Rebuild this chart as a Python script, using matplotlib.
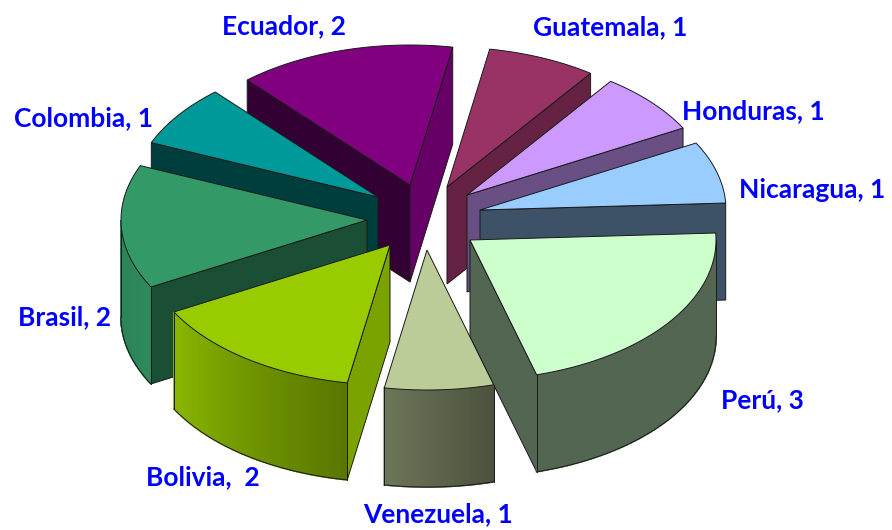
import numpy as np
import matplotlib
matplotlib.use("Agg")
import matplotlib.pyplot as plt
from matplotlib.patches import Polygon

# clockwise from the top
labels = ["Guatemala, 1", "Honduras, 1", "Nicaragua, 1", "Perú, 3", "Venezuela, 1",
          "Bolivia,  2", "Brasil, 2", "Colombia, 1", "Ecuador, 2"]
values = [1, 1, 1, 3, 1, 2, 2, 1, 2]
colors = ["#993366", "#CC99FF", "#99CCFF", "#CCFFCC", "#BBCC99",
          "#99CC00", "#339966", "#009999", "#800080"]

# layout in pixels
apex_x = [447, 467, 480, 470, 427, 390, 367, 378, 410]
apex_y = [187, 195, 210, 240, 250, 245, 220, 197, 185]
label_x = [533, 682, 739, 721, 363, 146, 18, 14, 222]
label_y = [27, 111, 190, 400, 514, 477, 317, 118, 26]
draw_order = [8, 0, 7, 1, 2, 6, 3, 5, 4]
start_angle = 10
rx, ry = 246, 140
depth = 97
edge = "#1a1a1a"


def shade(color, f):
    return tuple(np.array(matplotlib.colors.to_rgb(color)) * f)


def cut_shade(normal):
    return np.clip(0.8 - (normal - 100) * 0.0055, 0.4, 0.8)


def rim(cx, cy, a):
    a = np.radians(a)
    return cx + rx * np.sin(a), cy - ry * np.cos(a)


def draw_cut(ax, cx, cy, a, normal, color, z):
    # flat wall from the apex to the rim, only if it faces the viewer
    if np.cos(np.radians(normal)) >= 0:
        return
    x, y = rim(cx, cy, a)
    pts = [(cx, cy), (x, y), (x, y + depth), (cx, cy + depth)]
    ax.add_patch(Polygon(pts, fc=shade(color, cut_shade(normal % 360)), ec=edge, lw=0.7, zorder=z))


def draw_rim(ax, cx, cy, a0, a1, color, z):
    # outer wall, only the front half of the ellipse shows
    lo, hi = max(a0, 90), min(a1, 270)
    if lo >= hi:
        return
    t = np.linspace(lo, hi, 60)
    xs, ys = rim(cx, cy, t)
    f = np.interp(t, [90, 164, 190, 241, 270], [0.4, 0.4, 0.58, 0.9, 0.85])
    for i in range(len(t) - 1):
        pts = [(xs[i], ys[i]), (xs[i + 1], ys[i + 1]),
               (xs[i + 1], ys[i + 1] + depth), (xs[i], ys[i] + depth)]
        c = shade(color, f[i])
        ax.add_patch(Polygon(pts, fc=c, ec=c, lw=1.2, zorder=z))
    ax.plot(xs, ys + depth, color=edge, lw=0.7, zorder=z + 0.1)
    ax.plot([xs[0], xs[0]], [ys[0], ys[0] + depth], color=edge, lw=0.7, zorder=z + 0.1)
    ax.plot([xs[-1], xs[-1]], [ys[-1], ys[-1] + depth], color=edge, lw=0.7, zorder=z + 0.1)


def main():
    fig = plt.figure(figsize=(8.92, 5.30), dpi=100)
    ax = fig.add_axes([0, 0, 1, 1])
    ax.set_xlim(0, 892)
    ax.set_ylim(530, 0)
    ax.axis("off")

    step = 360 / sum(values)
    ends = start_angle + np.cumsum(values) * step
    starts = ends - np.array(values) * step

    for n, i in enumerate(draw_order):
        a0, a1 = starts[i], ends[i]
        cx, cy = apex_x[i], apex_y[i]
        z = 10 + n
        draw_cut(ax, cx, cy, a0, a0 - 90, colors[i], z)
        draw_cut(ax, cx, cy, a1, a1 + 90, colors[i], z)
        draw_rim(ax, cx, cy, a0, a1, colors[i], z + 0.2)
        t = np.linspace(a0, a1, 60)
        xs, ys = rim(cx, cy, t)
        pts = np.column_stack([np.r_[cx, xs], np.r_[cy, ys]])
        ax.add_patch(Polygon(pts, fc=colors[i], ec=edge, lw=0.7, zorder=z + 0.5))

    for x, y, s in zip(label_x, label_y, labels):
        ax.text(x, y, s, color="#0000FF", fontsize=19, fontweight="bold",
                family=["Lato", "DejaVu Sans"], ha="left", va="center", zorder=50)

    fig.savefig("out.png", dpi=100)


if __name__ == "__main__":
    main()
